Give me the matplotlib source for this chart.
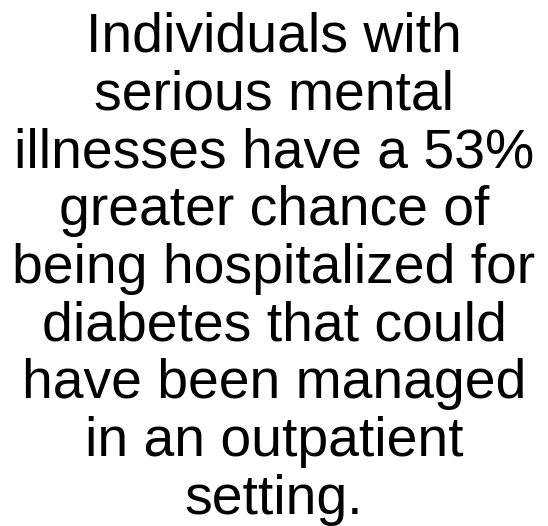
import matplotlib.pyplot as plt

plt.rcParams['font.family'] = ['Liberation Sans', 'DejaVu Sans']

lines = [
    "Individuals with",
    "serious mental",
    "illnesses have a 53%",
    "greater chance of",
    "being hospitalized for",
    "diabetes that could",
    "have been managed",
    "in an outpatient",
    "setting.",
]

W, H = 548, 526
fig = plt.figure(figsize=(W / 100, H / 100), dpi=100)
fig.patch.set_facecolor('white')

first_base = 51.7   # baseline of first line, px from top
step = 57.8         # line pitch in px
for i, line in enumerate(lines):
    y = first_base + i * step
    fig.text(0.5, 1 - y / H, line, ha='center', va='baseline',
             fontsize=39.8, color='black')

fig.savefig('out.png', dpi=100, facecolor='white')
